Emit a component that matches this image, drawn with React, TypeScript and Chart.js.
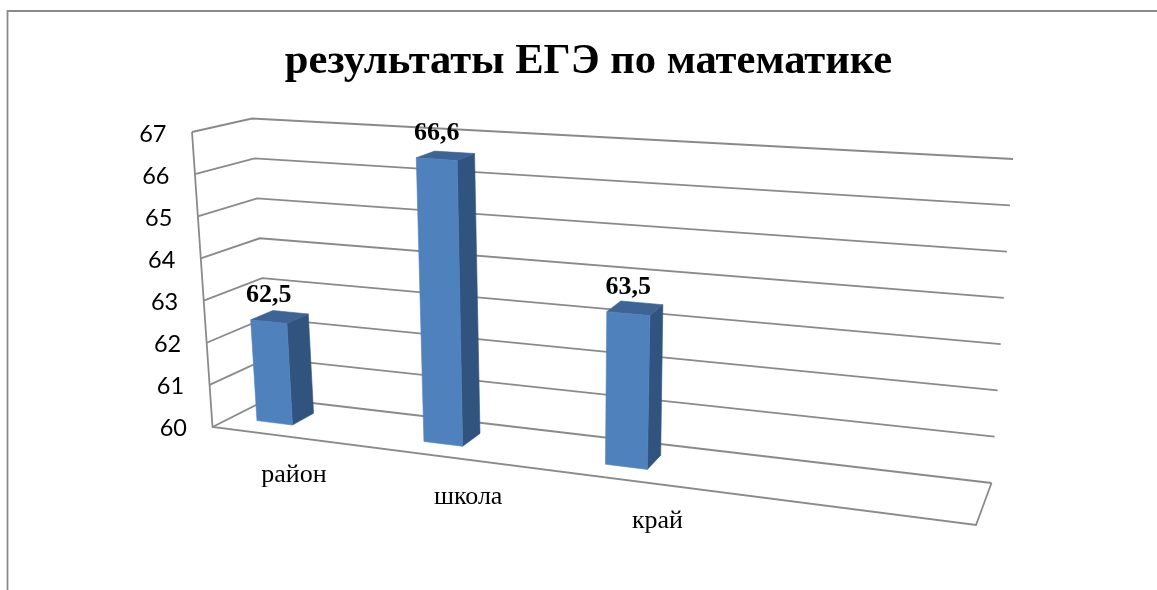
import React, { useEffect, useRef } from "react";
import { Chart, registerables, CategoryScale, LinearScale } from "chart.js";

const categories = ["район", "школа", "край", ""];
const values: (number | null)[] = [62.5, 66.6, 63.5, null];
const valueLabels = ["62,5", "66,6", "63,5", ""];
const yMin = 60;
const yMax = 67;
const yStep = 1;
const titleText = "результаты ЕГЭ по математике";

const FRONT_COLOR = "#4F81BD";
const SIDE_COLOR = "#31547F";
const TOP_COLOR = "#3D6495";
const LINE_COLOR = "#8A8A8A";
const SERIF = "'Liberation Serif', serif";

type Pt = [number, number];
// Corners of the 3D box: floor (v=0) and ceiling (v=1) at front and back depth.
const box = {
  fl0: [212.5, 427] as Pt, fl1: [192, 132] as Pt,
  bl0: [270, 398] as Pt, bl1: [252, 118.5] as Pt,
  br0: [991.5, 483] as Pt, br1: [1013, 159] as Pt,
  fr0: [976, 525] as Pt, fr1: [1003, 183] as Pt,
};
const BAR_DEPTH_FRONT = 0.33;
const BAR_DEPTH_BACK = 0.72;

const mix = (a: Pt, b: Pt, t: number): Pt => [a[0] + (b[0] - a[0]) * t, a[1] + (b[1] - a[1]) * t];

// s: 0..1 across the box, v: 0..1 up the value axis, d: 0 front .. 1 back
function project(s: number, v: number, d: number): Pt {
  const left0 = mix(box.fl0, box.bl0, d);
  const left1 = mix(box.fl1, box.bl1, d);
  const right0 = mix(box.fr0, box.br0, d);
  const right1 = mix(box.fr1, box.br1, d);
  return mix(mix(left0, right0, s), mix(left1, right1, s), v);
}
// foreshortening of the category axis
const warpX = (u: number) => -0.0476 + 0.822 * u + 0.155 * u * u;
// slight foreshortening of bar heights
const warpV = (v: number) => v - 0.05 * v * (1 - v);

class Value3DScale extends LinearScale {
  static id = "value3d";
  static defaults = LinearScale.defaults;
  _computeLabelArea() {
    return undefined;
  }
  _computeLabelItems(area: any) {
    const items = super._computeLabelItems(area);
    items.forEach((it: any, i: number) => {
      const v = this.getDecimalForPixel(this.getPixelForValue(this.ticks[i].value));
      const p = project(0, v, 0);
      it.options.translation = [p[0] - 25.5, it.options.translation[1] + 1];
      it.options.textAlign = "right";
    });
    return items;
  }
}

class Category3DScale extends CategoryScale {
  static id = "category3d";
  static defaults = CategoryScale.defaults;
  _computeLabelArea() {
    return undefined;
  }
  _computeLabelItems(area: any) {
    const items = super._computeLabelItems(area);
    items.forEach((it: any, i: number) => {
      const u = this.getDecimalForPixel(this.getPixelForTick(i));
      const p = project(warpX(u), 0, 0);
      it.textOffset = 0;
      it.options.translation = [p[0] + 40 + (p[0] - 428) * 0.015, p[1] + 49];
      it.options.textAlign = "center";
      it.options.textBaseline = "alphabetic";
    });
    return items;
  }
}

Chart.register(...registerables, Value3DScale, Category3DScale);

function poly(ctx: CanvasRenderingContext2D, pts: Pt[], color: string) {
  ctx.beginPath();
  pts.forEach((p, i) => (i ? ctx.lineTo(p[0], p[1]) : ctx.moveTo(p[0], p[1])));
  ctx.closePath();
  ctx.fillStyle = color;
  ctx.strokeStyle = color;
  ctx.lineWidth = 0.6;
  ctx.fill();
  ctx.stroke();
}

function line(ctx: CanvasRenderingContext2D, pts: Pt[]) {
  ctx.beginPath();
  pts.forEach((p, i) => (i ? ctx.lineTo(p[0], p[1]) : ctx.moveTo(p[0], p[1])));
  ctx.stroke();
}

const scene3D = {
  id: "scene3D",
  beforeDraw(chart: any) {
    const ctx = chart.ctx;
    ctx.save();
    ctx.strokeStyle = LINE_COLOR;
    ctx.lineWidth = 1.8;
    line(ctx, [[7.5, chart.height], [7.5, 11], [chart.width, 11]]);
    ctx.restore();
  },
  beforeDatasetsDraw(chart: any) {
    const ctx: CanvasRenderingContext2D = chart.ctx;
    const yScale = chart.scales.y;
    const xScale = chart.scales.x;
    ctx.save();
    ctx.strokeStyle = LINE_COLOR;
    ctx.lineWidth = 1.8;
    ctx.lineJoin = "miter";
    yScale.ticks.forEach((t: any) => {
      const v = yScale.getDecimalForPixel(yScale.getPixelForValue(t.value));
      line(ctx, [project(0, v, 0), project(0, v, 1), project(1, v, 1)]);
    });
    line(ctx, [project(0, 1, 0), project(0, 0, 0), project(1, 0, 0), project(1, 0, 1)]);

    const meta = chart.getDatasetMeta(0);
    const ds = chart.data.datasets[0];
    meta.data.forEach((el: any, i: number) => {
      if (values[i] == null) return;
      const { x, y, width } = el.getProps(["x", "y", "width"], true);
      const s0 = warpX(xScale.getDecimalForPixel(x - width / 2));
      const s1 = warpX(xScale.getDecimalForPixel(x + width / 2));
      const v = warpV(yScale.getDecimalForPixel(y));
      const df = BAR_DEPTH_FRONT;
      const db = BAR_DEPTH_BACK;
      poly(ctx, [project(s1, 0, df), project(s1, 0, db), project(s1, v, db), project(s1, v, df)], SIDE_COLOR);
      poly(ctx, [project(s0, v, df), project(s1, v, df), project(s1, v, db), project(s0, v, db)], TOP_COLOR);
      poly(ctx, [project(s0, 0, df), project(s1, 0, df), project(s1, v, df), project(s0, v, df)], ds.backgroundColor);
      const a = project(s0, v, df);
      const b = project(s1, v, df);
      ctx.fillStyle = "#000";
      ctx.font = `bold 26px ${SERIF}`;
      ctx.textAlign = "center";
      ctx.textBaseline = "alphabetic";
      ctx.fillText(valueLabels[i], (a[0] + b[0]) / 2, (a[1] + b[1]) / 2 - 19.5);
    });
    ctx.restore();
    return false;
  },
};

export default function App() {
  const ref = useRef<HTMLCanvasElement>(null);
  useEffect(() => {
    const chart = new Chart(ref.current!, {
      type: "bar",
      data: {
        labels: categories,
        datasets: [{ data: values, backgroundColor: FRONT_COLOR, barPercentage: 0.22, categoryPercentage: 1 }],
      },
      options: {
        animation: false,
        responsive: false,
        layout: { padding: { left: 20, right: 0, top: 0, bottom: 0 }, autoPadding: false },
        plugins: {
          legend: { display: false },
          tooltip: { enabled: false },
          title: {
            display: true,
            text: titleText,
            color: "#000",
            font: { family: SERIF, size: 42.6, weight: "bold", lineHeight: 1.2 },
            padding: { top: 36, bottom: 45.9 },
          },
        },
        scales: {
          x: {
            type: "category3d",
            grid: { display: false },
            border: { display: false },
            ticks: { color: "#000", font: { family: SERIF, size: 26 }, autoSkip: false, maxRotation: 0 },
            afterFit: (s: any) => { s.height = 163; },
          },
          y: {
            type: "value3d",
            min: yMin,
            max: yMax,
            grid: { display: false },
            border: { display: false },
            ticks: { color: "#000", font: { family: "Lato", size: 23.5 }, stepSize: yStep, callback: (v: any) => String(v) },
            afterFit: (s: any) => { s.width = 160; },
          },
        },
      } as any,
      plugins: [scene3D],
    });
    return () => chart.destroy();
  }, []);
  return (
    <div style={{ position: "fixed", left: 0, top: 0, width: 1157, height: 590, background: "#fff" }}>
      <canvas ref={ref} width={1157} height={590} style={{ display: "block" }} />
    </div>
  );
}
